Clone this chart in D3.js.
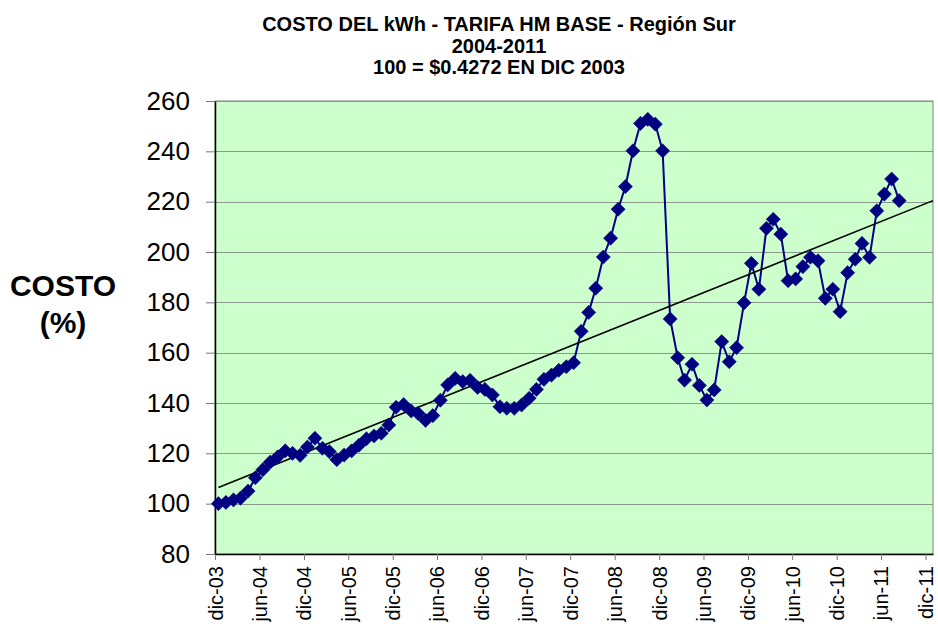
<!DOCTYPE html>
<html>
<head>
<meta charset="utf-8">
<script src="https://cdn.jsdelivr.net/npm/d3@7"></script>
<style>
  body { margin: 0; background: #fff; }
  text { font-family: Arial, "Liberation Sans", sans-serif; }
</style>
</head>
<body>
<div id="chart"></div>
<script>
// Costo del kWh, tarifa HM base, Región Sur (100 = dic 2003)

var titulo = ["COSTO DEL kWh - TARIFA HM BASE - Región Sur", "2004-2011", "100 = $0.4272 EN DIC 2003"];
var mesesES = ["ene", "feb", "mar", "abr", "may", "jun", "jul", "ago", "sep", "oct", "nov", "dic"];
var yTicks = [80, 100, 120, 140, 160, 180, 200, 220, 240, 260];
// first value is dic-03, one value per month through ago-11
var inicio = [2003, 11];
var costo = [
    100, 100.5, 101.5, 102.2, 105, 110.3, 113.5, 116.5, 118.6, 121, 120, 119.2,
    122.5, 126, 122, 120.7, 117.5, 119.3, 121, 123.2, 125.8, 126.9, 128, 131.3,
    138.3, 139.4, 136.8, 135.9, 133.1, 135, 141.1, 147.2, 149.8, 148.5, 149, 146.2,
    145.4, 143.2, 138.5, 137.9, 137.9, 139.2, 141.9, 145.4, 149.4, 151.1, 153, 154.4,
    156, 168.5, 176, 185.6, 198, 205.5, 217, 226, 240.2, 251.1, 252.7, 250.8,
    240.2, 173.4, 158, 149.1, 155.4, 147, 141.2, 145.2, 164.4, 156.4, 162, 179.8,
    195.5, 185.2, 209.4, 213, 207.1, 188.6, 189.3, 194.2, 197.9, 196.5, 181.6, 185.2,
    176.3, 191.8, 197.1, 203.4, 197.9, 216.4, 223, 229, 220.4
];

var svgWidth = 938, svgHeight = 624;
var margin = {top: 101, right: 5, bottom: 70, left: 215};
var chartW = svgWidth - margin.left - margin.right;
var chartH = svgHeight - margin.top - margin.bottom;

var svg = d3.select('#chart').append('svg')
    .attr('width', svgWidth)
    .attr('height', svgHeight);

var data = costo.map(function(v, i) {
    return {fecha: new Date(Date.UTC(inicio[0], inicio[1] + i, 15)), valor: v, i: i};
});

var xScale = d3.scaleUtc()
    .domain([new Date(Date.UTC(2003, 11, 1)), new Date(Date.UTC(2012, 0, 1))])
    .range([0, chartW]);
var yScale = d3.scaleLinear()
    .domain([80, 260])
    .range([chartH, 0]);

var g = svg.append('g')
    .attr('transform', `translate(${margin.left}, ${margin.top})`);

// plot area
g.append('rect')
    .attr('width', chartW)
    .attr('height', chartH)
    .attr('fill', '#CCFFCC')
    .attr('stroke', '#808080')
    .attr('stroke-width', 1);

// gridlines
g.selectAll('.grid')
    .data(yTicks.slice(1))
    .enter()
    .append('line')
    .attr('x1', 0)
    .attr('x2', chartW)
    .attr('y1', d => Math.round(yScale(d)) + 0.5)
    .attr('y2', d => Math.round(yScale(d)) + 0.5)
    .attr('stroke', '#8a9a8a')
    .attr('stroke-width', 1);

// axes - a label every six months (dic / jun)
var xTickDates = d3.utcMonth.range(new Date(Date.UTC(2003, 11, 1)), new Date(Date.UTC(2012, 0, 2)), 6);
var fmtMes = d => mesesES[d.getUTCMonth()] + '-' + String(d.getUTCFullYear() % 100).padStart(2, '0');

var xAxis = g.append('g')
    .attr('transform', `translate(0, ${chartH})`)
    .call(d3.axisBottom(xScale).tickValues(xTickDates).tickFormat(fmtMes).tickSize(6).tickSizeOuter(0));
xAxis.select('.domain').attr('stroke', '#000').attr('stroke-width', 1.5);
xAxis.selectAll('.tick line').attr('stroke', '#777');
xAxis.selectAll('.tick text')
    .attr('font-size', '20px')
    .attr('fill', '#000')
    .attr('transform', 'rotate(-90)')
    .attr('text-anchor', 'end')
    .attr('x', -12)
    .attr('y', 0)
    .attr('dy', '0.35em');

var yAxis = g.append('g')
    .call(d3.axisLeft(yScale).tickValues(yTicks).tickSize(9).tickSizeOuter(0).tickPadding(16));
yAxis.select('.domain').attr('stroke', '#000').attr('stroke-width', 1.5);
yAxis.selectAll('.tick line').attr('stroke', '#777');
yAxis.selectAll('.tick text')
    .attr('font-size', '26px')
    .attr('fill', '#000');

// series line
var linea = d3.line()
    .x(d => xScale(d.fecha))
    .y(d => yScale(d.valor));
g.append('path')
    .datum(data)
    .attr('d', linea)
    .attr('fill', 'none')
    .attr('stroke', '#000080')
    .attr('stroke-width', 2);

// linear trend (least squares), projected to the end of the axis
var mx = d3.mean(data, d => d.i), my = d3.mean(data, d => d.valor);
var sxy = d3.sum(data, d => (d.i - mx) * (d.valor - my));
var sxx = d3.sum(data, d => (d.i - mx) * (d.i - mx));
var pend = sxy / sxx, orig = my - pend * mx;
var fin = xScale.domain()[1];
var finI = d3.utcMonth.count(data[0].fecha, fin) + (fin.getUTCDate() - 15) / 31;
var tendencia = [
    {x: data[0].fecha, y: orig},
    {x: fin, y: orig + pend * finI}
];
g.append('line')
    .attr('x1', xScale(tendencia[0].x))
    .attr('y1', yScale(tendencia[0].y))
    .attr('x2', xScale(tendencia[1].x))
    .attr('y2', yScale(tendencia[1].y))
    .attr('stroke', '#000')
    .attr('stroke-width', 1.6);

// diamond markers
g.selectAll('.marca')
    .data(data)
    .enter()
    .append('path')
    .attr('d', d3.symbol().type(d3.symbolSquare).size(100))
    .attr('transform', d => `translate(${xScale(d.fecha)}, ${yScale(d.valor)}) rotate(45)`)
    .attr('fill', '#000080')
    .attr('stroke', '#000080')
    .attr('stroke-width', 0.5);

// title
svg.append('g').selectAll('text')
    .data(titulo)
    .enter()
    .append('text')
    .attr('x', 499)
    .attr('y', (d, i) => 31 + i * 21.5)
    .attr('text-anchor', 'middle')
    .attr('font-size', '20px')
    .attr('font-weight', 'bold')
    .text(d => d);

// y axis title
svg.append('g').selectAll('text')
    .data(['COSTO', '(%)'])
    .enter()
    .append('text')
    .attr('x', 63)
    .attr('y', (d, i) => 296 + i * 37)
    .attr('text-anchor', 'middle')
    .attr('font-size', '30px')
    .attr('font-weight', 'bold')
    .text(d => d);
</script>
</body>
</html>
